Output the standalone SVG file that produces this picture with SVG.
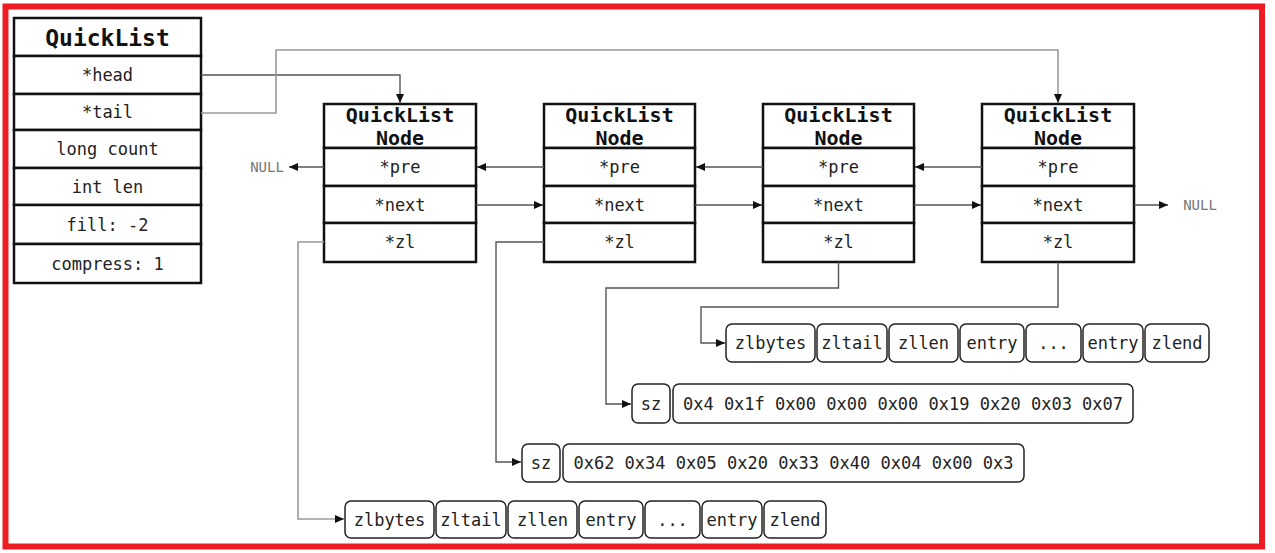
<svg xmlns="http://www.w3.org/2000/svg" width="1275" height="553" viewBox="0 0 1275 553">
<defs>
<marker id="ah" markerWidth="10" markerHeight="10" refX="9" refY="5" orient="auto" markerUnits="userSpaceOnUse">
<path d="M0,1 L9,5 L0,9 Z" fill="#111"/>
</marker>
<style>
text{font-family:"DejaVu Sans Mono","Liberation Mono",monospace;fill:#222;text-anchor:middle;dominant-baseline:central}
.cell{fill:#fff;stroke:#111;stroke-width:2.5}
.zb{fill:#fff;stroke:#222;stroke-width:1.5}
.t17{font-size:17px}
.ttl{font-size:20px;font-weight:bold;fill:#111;dominant-baseline:auto}
.big{font-size:23px;font-weight:bold;fill:#111}
.null{font-size:14px;fill:#777}
.ln{fill:none;stroke:#555;stroke-width:1.4}
.lg{fill:none;stroke:#999;stroke-width:1.6}
</style>
</defs>
<rect x="0" y="0" width="1275" height="553" fill="#fff"/>
<rect x="5.5" y="6.5" width="1256.5" height="540" fill="none" stroke="#ED1C24" stroke-width="6"/>

<g id="quicklist">
<rect class="cell" x="14" y="18" width="187" height="38"/>
<rect class="cell" x="14" y="56" width="187" height="38"/>
<rect class="cell" x="14" y="94" width="187" height="36"/>
<rect class="cell" x="14" y="130" width="187" height="38"/>
<rect class="cell" x="14" y="168" width="187" height="37"/>
<rect class="cell" x="14" y="205" width="187" height="39"/>
<rect class="cell" x="14" y="244" width="187" height="39"/>
<text class="big" x="107.5" y="38">QuickList</text>
<text class="t17" x="107.5" y="75">*head</text>
<text class="t17" x="107.5" y="112">*tail</text>
<text class="t17" x="107.5" y="149">long count</text>
<text class="t17" x="107.5" y="186.5">int len</text>
<text class="t17" x="107.5" y="224.5">fill: -2</text>
<text class="t17" x="107.5" y="263.5">compress: 1</text>
</g>

<g id="node1">
<rect class="cell" x="324" y="104" width="152" height="44"/>
<rect class="cell" x="324" y="148" width="152" height="38"/>
<rect class="cell" x="324" y="186" width="152" height="37"/>
<rect class="cell" x="324" y="223" width="152" height="39"/>
<text class="ttl" x="400" y="122">QuickList</text>
<text class="ttl" x="400" y="145">Node</text>
<text class="t17" x="400" y="167">*pre</text>
<text class="t17" x="400" y="205">*next</text>
<text class="t17" x="400" y="242">*zl</text>
</g>
<g id="node2">
<rect class="cell" x="544" y="104" width="151" height="44"/>
<rect class="cell" x="544" y="148" width="151" height="38"/>
<rect class="cell" x="544" y="186" width="151" height="37"/>
<rect class="cell" x="544" y="223" width="151" height="39"/>
<text class="ttl" x="619.5" y="122">QuickList</text>
<text class="ttl" x="619.5" y="145">Node</text>
<text class="t17" x="619.5" y="167">*pre</text>
<text class="t17" x="619.5" y="205">*next</text>
<text class="t17" x="619.5" y="242">*zl</text>
</g>
<g id="node3">
<rect class="cell" x="763" y="104" width="151" height="44"/>
<rect class="cell" x="763" y="148" width="151" height="38"/>
<rect class="cell" x="763" y="186" width="151" height="37"/>
<rect class="cell" x="763" y="223" width="151" height="39"/>
<text class="ttl" x="838.5" y="122">QuickList</text>
<text class="ttl" x="838.5" y="145">Node</text>
<text class="t17" x="838.5" y="167">*pre</text>
<text class="t17" x="838.5" y="205">*next</text>
<text class="t17" x="838.5" y="242">*zl</text>
</g>
<g id="node4">
<rect class="cell" x="982" y="104" width="152" height="44"/>
<rect class="cell" x="982" y="148" width="152" height="38"/>
<rect class="cell" x="982" y="186" width="152" height="37"/>
<rect class="cell" x="982" y="223" width="152" height="39"/>
<text class="ttl" x="1058" y="122">QuickList</text>
<text class="ttl" x="1058" y="145">Node</text>
<text class="t17" x="1058" y="167">*pre</text>
<text class="t17" x="1058" y="205">*next</text>
<text class="t17" x="1058" y="242">*zl</text>
</g>

<g id="null-left"><text class="null" x="267" y="167">NULL</text></g>
<g id="null-right"><text class="null" x="1200" y="205">NULL</text></g>

<g id="ziplist-a">
<rect class="zb" x="726" y="324" width="89" height="38" rx="6"/>
<rect class="zb" x="817" y="324" width="70" height="38" rx="6"/>
<rect class="zb" x="889" y="324" width="69" height="38" rx="6"/>
<rect class="zb" x="960" y="324" width="64" height="38" rx="6"/>
<rect class="zb" x="1026" y="324" width="55" height="38" rx="6"/>
<rect class="zb" x="1083" y="324" width="60" height="38" rx="6"/>
<rect class="zb" x="1145" y="324" width="64" height="38" rx="6"/>
<text class="t17" x="770.5" y="343">zlbytes</text>
<text class="t17" x="852" y="343">zltail</text>
<text class="t17" x="923.5" y="343">zllen</text>
<text class="t17" x="992" y="343">entry</text>
<text class="t17" x="1053.5" y="343">...</text>
<text class="t17" x="1113" y="343">entry</text>
<text class="t17" x="1177" y="343">zlend</text>
</g>

<g id="compressed-b">
<rect class="zb" x="632" y="384" width="38" height="39" rx="6"/>
<rect class="zb" x="673" y="384" width="460" height="39" rx="6"/>
<text class="t17" x="651" y="404">sz</text>
<text class="t17" x="903" y="404">0x4 0x1f 0x00 0x00 0x00 0x19 0x20 0x03 0x07</text>
</g>

<g id="compressed-c">
<rect class="zb" x="522" y="444" width="38" height="38" rx="6"/>
<rect class="zb" x="563" y="444" width="461" height="38" rx="6"/>
<text class="t17" x="541" y="463">sz</text>
<text class="t17" x="793.5" y="463">0x62 0x34 0x05 0x20 0x33 0x40 0x04 0x00 0x3</text>
</g>

<g id="ziplist-d">
<rect class="zb" x="345" y="501" width="89" height="37" rx="6"/>
<rect class="zb" x="436" y="501" width="70" height="37" rx="6"/>
<rect class="zb" x="508" y="501" width="69" height="37" rx="6"/>
<rect class="zb" x="579" y="501" width="64" height="37" rx="6"/>
<rect class="zb" x="645" y="501" width="55" height="37" rx="6"/>
<rect class="zb" x="702" y="501" width="60" height="37" rx="6"/>
<rect class="zb" x="764" y="501" width="62" height="37" rx="6"/>
<text class="t17" x="389.5" y="519.5">zlbytes</text>
<text class="t17" x="471" y="519.5">zltail</text>
<text class="t17" x="542.5" y="519.5">zllen</text>
<text class="t17" x="611" y="519.5">entry</text>
<text class="t17" x="672.5" y="519.5">...</text>
<text class="t17" x="732" y="519.5">entry</text>
<text class="t17" x="795" y="519.5">zlend</text>
</g>

<g id="connectors">
<path class="ln" d="M201,75 H400 V103" marker-end="url(#ah)"/>
<path class="lg" d="M201,113 H276 V50 H1058 V103" marker-end="url(#ah)"/>
<path class="ln" d="M324,167 H289" marker-end="url(#ah)"/>
<path class="ln" d="M544,167 H477" marker-end="url(#ah)"/>
<path class="ln" d="M763,167 H696" marker-end="url(#ah)"/>
<path class="ln" d="M982,167 H915" marker-end="url(#ah)"/>
<path class="ln" d="M476,205 H543" marker-end="url(#ah)"/>
<path class="ln" d="M695,205 H762" marker-end="url(#ah)"/>
<path class="ln" d="M914,205 H981" marker-end="url(#ah)"/>
<path class="ln" d="M1134,205 H1168" marker-end="url(#ah)"/>
<path class="lg" d="M324,242 H298 V519 H344" marker-end="url(#ah)"/>
<path class="ln" d="M544,242 H496 V462 H521" marker-end="url(#ah)"/>
<path class="ln" d="M838.5,262 V288 H606 V404 H631" marker-end="url(#ah)"/>
<path class="ln" d="M1058,262 V307 H701 V343 H725" marker-end="url(#ah)"/>
</g>
</svg>
